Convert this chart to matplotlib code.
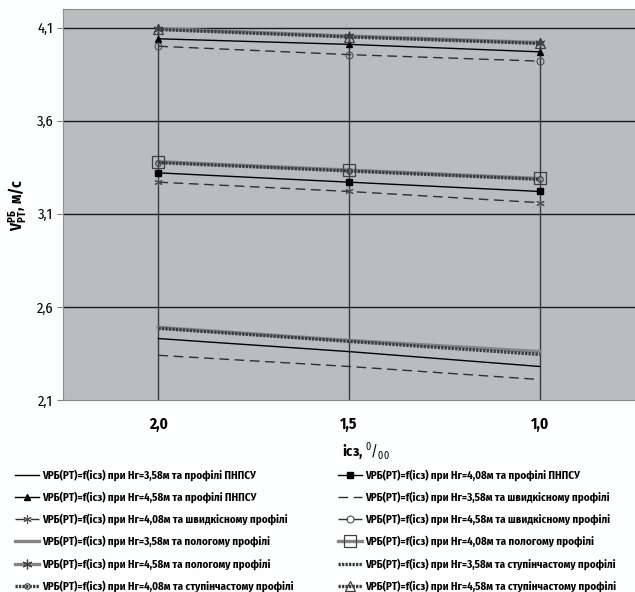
import matplotlib
matplotlib.use("Agg")
import matplotlib.pyplot as plt
import numpy as np

# data
x_labels = ['2,0', '1,5', '1,0']

h358_pnpsu = [2.43, 2.36, 2.28]
h408_pnpsu = [3.32, 3.27, 3.22]
h458_pnpsu = [4.04, 4.01, 3.97]
h358_shv = [2.34, 2.28, 2.21]
h408_shv = [3.27, 3.22, 3.16]
h458_shv = [4.00, 3.955, 3.92]
h358_pol = [2.49, 2.42, 2.36]
h408_pol = [3.38, 3.335, 3.29]
h458_pol = [4.095, 4.055, 4.02]
h358_st = [2.485, 2.415, 2.345]
h408_st = [3.375, 3.33, 3.285]
h458_st = [4.09, 4.05, 4.015]

names = [
    'VРБ(РТ)=f(ісз) при Нг=3,58м та профілі ПНПСУ',
    'VРБ(РТ)=f(ісз) при Нг=4,08м та профілі ПНПСУ',
    'VРБ(РТ)=f(ісз) при Нг=4,58м та профілі ПНПСУ',
    'VРБ(РТ)=f(ісз) при Нг=3,58м та швидкісному профілі',
    'VРБ(РТ)=f(ісз) при Нг=4,08м та швидкісному профілі',
    'VРБ(РТ)=f(ісз) при Нг=4,58м та швидкісному профілі',
    'VРБ(РТ)=f(ісз) при Нг=3,58м та пологому профілі',
    'VРБ(РТ)=f(ісз) при Нг=4,08м та пологому профілі',
    'VРБ(РТ)=f(ісз) при Нг=4,58м та пологому профілі',
    'VРБ(РТ)=f(ісз) при Нг=3,58м та ступінчастому профілі',
    'VРБ(РТ)=f(ісз) при Нг=4,08м та ступінчастому профілі',
    'VРБ(РТ)=f(ісз) при Нг=4,58м та ступінчастому профілі',
]
series = [h358_pnpsu, h408_pnpsu, h458_pnpsu,
          h358_shv, h408_shv, h458_shv,
          h358_pol, h408_pol, h458_pol,
          h358_st, h408_st, h458_st]

plt.rcParams['font.family'] = ['Fira Sans Condensed', 'DejaVu Sans']
plt.rcParams['mathtext.fontset'] = 'custom'
plt.rcParams['mathtext.rm'] = 'Fira Sans Condensed'
plt.rcParams['mathtext.bf'] = 'Fira Sans Condensed:bold'

star = (6, 2, 0)
hatch_ls = (0, (0.7, 0.35))
dash_ls = (0, (7, 4))
styles = [
    dict(color='black', lw=1.0, ls='-', marker=None),
    dict(color='black', lw=1.0, ls='-', marker='s', ms=4, mfc='black', mec='black'),
    dict(color='black', lw=1.0, ls='-', marker='^', ms=4, mfc='black', mec='black'),
    dict(color='#303030', lw=1.0, ls=dash_ls, marker=None),
    dict(color='#303030', lw=1.0, ls=dash_ls, marker=star, ms=6, mec='#505050', mew=0.8),
    dict(color='#303030', lw=1.0, ls=dash_ls, marker='o', ms=5, mfc='none', mec='#505050', mew=0.8),
    dict(color='#858585', lw=2.4, ls='-', marker=None),
    dict(color='#858585', lw=2.4, ls='-', marker='s', ms=8, mfc='none', mec='#404040', mew=0.9),
    dict(color='#858585', lw=2.4, ls='-', marker=star, ms=7, mec='#404040', mew=0.9),
    dict(color='#3c3c3c', lw=2.4, ls=hatch_ls, marker=None),
    dict(color='#3c3c3c', lw=2.4, ls=hatch_ls, marker='o', ms=4, mfc='none', mec='#404040', mew=0.8),
    dict(color='#3c3c3c', lw=2.4, ls=hatch_ls, marker='^', ms=7, mfc='none', mec='#404040', mew=0.9),
]

fig = plt.figure(figsize=(6.35, 5.92), dpi=100, facecolor='#fdfefe')
ax = fig.add_axes([63 / 635, 1 - 400 / 592, 1 - 63 / 635, 391 / 592])
ax.set_facecolor('#b9bdbf')

x = np.arange(len(x_labels))
ymin, ymax = 2.1, 4.2

# drop lines from top series down to the axis
tops = np.max(np.array(series), axis=0)
ax.vlines(x, ymin, tops, color='#3a3a3a', lw=1.0, zorder=2)

for yv in [2.6, 3.1, 3.6, 4.1]:
    ax.axhline(yv, color='#1a1a1a', lw=1.0, zorder=1)

handles = []
for vals, st, nm in zip(series, styles, names):
    h, = ax.plot(x, vals, label=nm, zorder=3, **st)
    handles.append(h)

ax.set_xlim(-0.5, 2.5)
ax.set_ylim(ymin, ymax)
ax.set_xticks(x)
ax.set_xticklabels(x_labels, fontsize=11, fontweight='bold')
ax.set_yticks([2.1, 2.6, 3.1, 3.6, 4.1])
ax.set_yticklabels(['2,1', '2,6', '3,1', '3,6', '4,1'], fontsize=10.5)
ax.tick_params(axis='x', length=0, pad=12)
ax.tick_params(axis='y', length=4, color='#808080', pad=3)

for s in ['left', 'bottom', 'top']:
    ax.spines[s].set_color('#8c8c8c')
ax.spines['right'].set_visible(False)

ax.set_ylabel(r'$\mathbf{V}^{\mathbf{РБ}}_{\mathbf{РТ}}$, м/с', fontsize=11, fontweight='bold')
ax.yaxis.set_label_coords(-0.058, 0.5)
fig.text(366 / 635, 1 - 452 / 592, r'ісз, $^{0}/_{00}$', fontsize=10.5, fontweight='bold',
         ha='center', va='center')

# legend is row-major in the reference: even items left, odd items right
leg_kw = dict(loc='upper left', frameon=False, handlelength=2.2,
              handletextpad=0.25, labelspacing=0.97, borderaxespad=0, borderpad=0,
              prop={'weight': 'bold', 'size': 7.9})
left = [0, 2, 4, 6, 8, 10]
right = [1, 3, 5, 7, 9, 11]
fig.legend([handles[i] for i in left], [names[i] for i in left],
           bbox_to_anchor=(15 / 635, 1 - 469 / 592), **leg_kw)
fig.legend([handles[i] for i in right], [names[i] for i in right],
           bbox_to_anchor=(338 / 635, 1 - 469 / 592), **leg_kw)

fig.savefig('out.png', dpi=100, facecolor=fig.get_facecolor())
